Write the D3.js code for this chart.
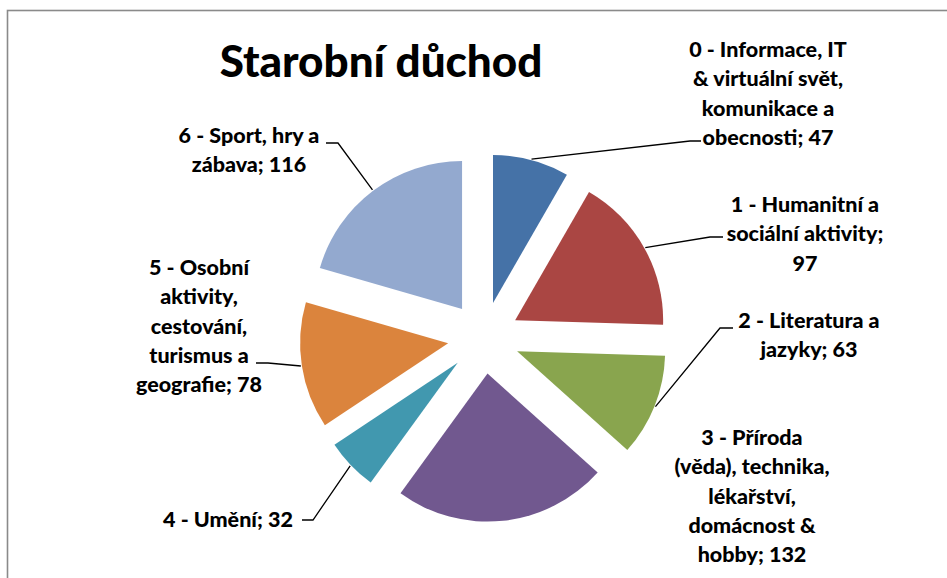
<!DOCTYPE html>
<html>
<head>
<meta charset="utf-8">
<script src="https://cdn.jsdelivr.net/npm/d3@7"></script>
<style>
  html, body { margin: 0; padding: 0; background: #fff; }
  svg { display: block; }
  text { font-family: Lato, "Open Sans", sans-serif; font-weight: 900; fill: #000; }
</style>
</head>
<body>
<svg id="chart" width="947" height="578"></svg>
<script>
// ---- data ----
const title = "Starobní důchod";
const categories = [
  "0 - Informace, IT\n& virtuální svět,\nkomunikace a\nobecnosti",
  "1 - Humanitní a\nsociální aktivity",
  "2 - Literatura a\njazyky",
  "3 - Příroda\n(věda), technika,\nlékařství,\ndomácnost &\nhobby",
  "4 - Umění",
  "5 - Osobní\naktivity,\ncestování,\nturismus a\ngeografie",
  "6 - Sport, hry a\nzábava"
];
const values = [47, 97, 63, 132, 32, 78, 116];
const colors = ["#4572A7", "#AA4643", "#89A54E", "#71588F", "#4198AF", "#DB843D", "#93A9CF"];

// ---- layout (label placement, not data) ----
const labelLayout = [
  { x: 768, y: 57,  anchor: "middle", valueNewLine: false, elbow: [690, 141], end: [701, 141] },
  { x: 805, y: 212, anchor: "middle", valueNewLine: true,  elbow: [710, 237], end: [723, 237] },
  { x: 809, y: 328, anchor: "middle", valueNewLine: false, elbow: [720, 328], end: [733, 328] },
  { x: 752, y: 445, anchor: "middle", valueNewLine: false, elbow: null, end: null },
  { x: 228, y: 527, anchor: "middle", valueNewLine: false, elbow: [313, 520], end: [302, 520] },
  { x: 199, y: 275, anchor: "middle", valueNewLine: false, elbow: [268, 363], end: [256, 363] },
  { x: 249, y: 143, anchor: "middle", valueNewLine: false, elbow: [338, 143], end: [326, 143] }
];

const W = 947, H = 578;
const cx = 483.7, cy = 337.8, R = 148, explode = 36;
const lineH = 29.3;

const svg = d3.select("#chart");

// frame
svg.append("rect")
  .attr("x", 7.5).attr("y", 10.5)
  .attr("width", 1200).attr("height", 1200)
  .attr("fill", "none").attr("stroke", "#8a8a8a").attr("stroke-width", 1.6);

// title
svg.append("text")
  .attr("x", 381).attr("y", 77)
  .attr("text-anchor", "middle")
  .style("font-size", "44px")
  .text(title);

const pie = d3.pie().sort(null).value(d => d)(values);
const arc = d3.arc().innerRadius(0).outerRadius(R);

const g = svg.append("g").attr("transform", `translate(${cx},${cy})`);

pie.forEach((p, i) => {
  const mid = (p.startAngle + p.endAngle) / 2;
  const dx = explode * Math.sin(mid), dy = -explode * Math.cos(mid);
  g.append("path")
    .attr("d", arc(p))
    .attr("transform", `translate(${dx},${dy})`)
    .attr("fill", colors[i]);
});

// leader lines + labels
pie.forEach((p, i) => {
  const L = labelLayout[i];
  const mid = (p.startAngle + p.endAngle) / 2;
  const sx = cx + (explode + R + 1) * Math.sin(mid);
  const sy = cy - (explode + R + 1) * Math.cos(mid);
  if (L.elbow) {
    svg.append("polyline")
      .attr("points", [[sx, sy], L.elbow, L.end].map(q => q.join(",")).join(" "))
      .attr("fill", "none").attr("stroke", "#000").attr("stroke-width", 1.3);
  }
  let txt = categories[i] + ";" + (L.valueNewLine ? "\n" : " ") + values[i];
  const lines = txt.split("\n");
  const t = svg.append("text")
    .attr("text-anchor", L.anchor)
    .style("font-size", "21.5px");
  lines.forEach((ln, k) => {
    t.append("tspan").attr("x", L.x).attr("y", L.y + k * lineH).text(ln);
  });
});
</script>
</body>
</html>
